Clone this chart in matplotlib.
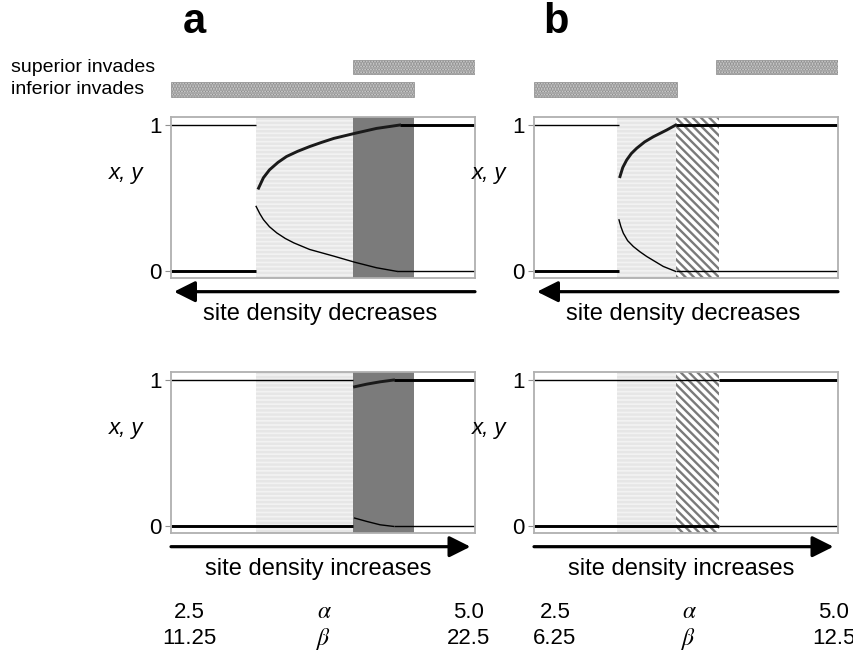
#!/usr/bin/env python
# %%
import numpy as np
import matplotlib
matplotlib.use('Agg')
import matplotlib.pyplot as plt

plt.rcParams['font.family'] = ['Liberation Sans', 'DejaVu Sans']
plt.rcParams['mathtext.fontset'] = 'stix'
plt.rcParams['hatch.linewidth'] = 1.7

# %% data (x axis is alpha, 2.5 .. 5.0)
alpha_range = [2.5, 5.0]
alpha_ends = ['2.5', '5.0']
beta_ends_a = ['11.25', '22.5']
beta_ends_b = ['6.25', '12.5']

# shaded bands in alpha
a_light = [3.2, 4.0]
a_dark = [4.0, 4.5]
b_light = [3.18, 3.67]
b_hatch = [3.67, 4.02]

# invasion bars (alpha from, alpha to)
a_superior = [4.0, 5.0]
a_inferior = [2.5, 4.5]
b_superior = [4.0, 5.0]
b_inferior = [2.5, 3.68]

# interior equilibrium branches, panel a (density decreasing)
a_up_x = [3.22, 3.26, 3.31, 3.38, 3.45, 3.54, 3.64, 3.74, 3.84, 4.01, 4.19, 4.38]
a_up_y = [0.569, 0.64, 0.694, 0.745, 0.785, 0.82, 0.853, 0.882, 0.909, 0.943, 0.977, 1.0]
a_lo_x = [3.20, 3.23, 3.26, 3.31, 3.37, 3.44, 3.51, 3.64, 3.84, 4.01, 4.19, 4.36]
a_lo_y = [0.444, 0.395, 0.354, 0.305, 0.263, 0.225, 0.195, 0.150, 0.104, 0.063, 0.025, 0.0]
# panel b (density decreasing)
b_up_x = [3.207, 3.23, 3.262, 3.30, 3.344, 3.41, 3.481, 3.591, 3.665]
b_up_y = [0.648, 0.71, 0.761, 0.805, 0.841, 0.885, 0.920, 0.966, 1.0]
b_lo_x = [3.199, 3.215, 3.234, 3.27, 3.317, 3.37, 3.427, 3.563, 3.665]
b_lo_y = [0.352, 0.305, 0.262, 0.21, 0.170, 0.135, 0.102, 0.034, 0.0]
# panel a, density increasing
a2_up_x = [4.01, 4.11, 4.22, 4.33]
a2_up_y = [0.954, 0.972, 0.988, 1.0]
a2_lo_x = [4.01, 4.11, 4.22, 4.33]
a2_lo_y = [0.057, 0.034, 0.011, 0.0]

# boundary equilibria: (alpha from, alpha to, level, stable)
flat_a_dec = [(2.5, 3.2, 1, False), (2.5, 3.2, 0, True),
              (4.38, 5.0, 1, True), (4.36, 5.0, 0, False)]
flat_b_dec = [(2.5, 3.2, 1, False), (2.5, 3.2, 0, True),
              (3.665, 5.0, 1, True), (3.665, 5.0, 0, False)]
flat_a_inc = [(2.5, 4.0, 1, False), (2.5, 4.0, 0, True),
              (4.33, 5.0, 1, True), (4.33, 5.0, 0, False)]
flat_b_inc = [(2.5, 4.02, 1, False), (2.5, 4.02, 0, True),
              (4.02, 5.0, 1, True), (4.02, 5.0, 0, False)]

W, H = 854, 657
THICK, THIN = 2.1, 1.0


def fx(px):
    return px / W


def fy(py):
    return 1 - py / H


def panel(ax, light, band, kind, flats, curves, decreasing):
    ax.axvspan(*light, facecolor='#f2f2f2', edgecolor='#e6e6e6', hatch='----',
               lw=0, zorder=0)
    if kind == 'dark':
        ax.axvspan(*band, facecolor='#7b7b7b', lw=0, zorder=0)
    else:
        ax.axvspan(*band, facecolor='white', edgecolor='#7a7a7a',
                   hatch='\\' * 4, lw=0, zorder=0)
    for x0, x1, lev, stable in flats:
        ax.plot([x0, x1], [lev, lev], color='black',
                lw=THICK if stable else THIN, solid_capstyle='butt')
    for xs, ys, stable in curves:
        ax.plot(xs, ys, color='#1a1a1a' if stable else 'black',
                lw=THICK if stable else THIN)
    ax.set_xlim(*alpha_range)
    ax.set_ylim(-0.045, 1.055)
    ax.set_xticks([])
    ax.set_yticks([0, 1])
    ax.set_yticklabels(['0', '1'])
    ax.tick_params(axis='y', length=4, color='#909090', labelsize=16, pad=3)
    for s in ax.spines.values():
        s.set_color('#b0b0b0')
        s.set_linewidth(1.3)
    ax.text(-0.148, 0.65, 'x, y', transform=ax.transAxes, fontsize=16,
            style='italic', ha='center', va='center')
    if decreasing:
        ax.annotate('', xy=(0.01, -0.085), xytext=(1.0, -0.085),
                    xycoords='axes fraction',
                    arrowprops=dict(arrowstyle='-|>', mutation_scale=32, lw=2.3,
                                    color='black', shrinkA=0, shrinkB=0))
        ax.text(0.49, -0.225, 'site density decreases', transform=ax.transAxes,
                fontsize=17, ha='center', va='center')
    else:
        ax.annotate('', xy=(0.985, -0.085), xytext=(0.0, -0.085),
                    xycoords='axes fraction',
                    arrowprops=dict(arrowstyle='-|>', mutation_scale=32, lw=2.3,
                                    color='black', shrinkA=0, shrinkB=0))
        ax.text(0.485, -0.225, 'site density increases', transform=ax.transAxes,
                fontsize=17, ha='center', va='center')


fig = plt.figure(figsize=(W / 100, H / 100), dpi=100)

aw = 304 / W
ah = 161 / H

ax_a1 = fig.add_axes([fx(171), fy(278), aw, ah])
ax_b1 = fig.add_axes([fx(534), fy(278), aw, ah])
ax_a2 = fig.add_axes([fx(171), fy(533), aw, ah])
ax_b2 = fig.add_axes([fx(534), fy(533), aw, ah])

panel(ax_a1, a_light, a_dark, 'dark', flat_a_dec,
      [(a_up_x, a_up_y, True), (a_lo_x, a_lo_y, False)], True)
panel(ax_b1, b_light, b_hatch, 'hatch', flat_b_dec,
      [(b_up_x, b_up_y, True), (b_lo_x, b_lo_y, False)], True)
panel(ax_a2, a_light, a_dark, 'dark', flat_a_inc,
      [(a2_up_x, a2_up_y, True), (a2_lo_x, a2_lo_y, False)], False)
panel(ax_b2, b_light, b_hatch, 'hatch', flat_b_inc, [], False)

# invasion bars on top
for left, sup, inf in [(171, a_superior, a_inferior), (534, b_superior, b_inferior)]:
    axb = fig.add_axes([fx(left), fy(100), aw, 43 / H])
    axb.set_xlim(*alpha_range)
    axb.set_ylim(100, 57)
    axb.barh([67, 89.5], [sup[1] - sup[0], inf[1] - inf[0]], left=[sup[0], inf[0]],
             height=[14, 15], facecolor='#d6d6d6', edgecolor='#8c8c8c',
             hatch='......', lw=0.5)
    axb.axis('off')

fig.text(fx(11), fy(67), 'superior invades', fontsize=14, ha='left', va='center')
fig.text(fx(11), fy(89), 'inferior invades', fontsize=14, ha='left', va='center')

fig.text(fx(194), fy(22), 'a', fontsize=30, fontweight='bold', ha='center', va='center')
fig.text(fx(556), fy(22), 'b', fontsize=30, fontweight='bold', ha='center', va='center')

# alpha / beta ranges under each column
for xl, xm, xr, betas in [(189, 324, 468, beta_ends_a), (555, 689, 834, beta_ends_b)]:
    fig.text(fx(xl), fy(613), alpha_ends[0], fontsize=16, ha='center', va='center')
    fig.text(fx(xm), fy(612), r'$\alpha$', fontsize=17, ha='center', va='center')
    fig.text(fx(xr), fy(613), alpha_ends[1], fontsize=16, ha='center', va='center')
    fig.text(fx(xl), fy(638), betas[0], fontsize=16, ha='center', va='center')
    fig.text(fx(xm), fy(639), r'$\beta$', fontsize=17, ha='center', va='center')
    fig.text(fx(xr), fy(638), betas[1], fontsize=16, ha='center', va='center')

plotfile = 'out.png'
fig.savefig(plotfile, dpi=100)
